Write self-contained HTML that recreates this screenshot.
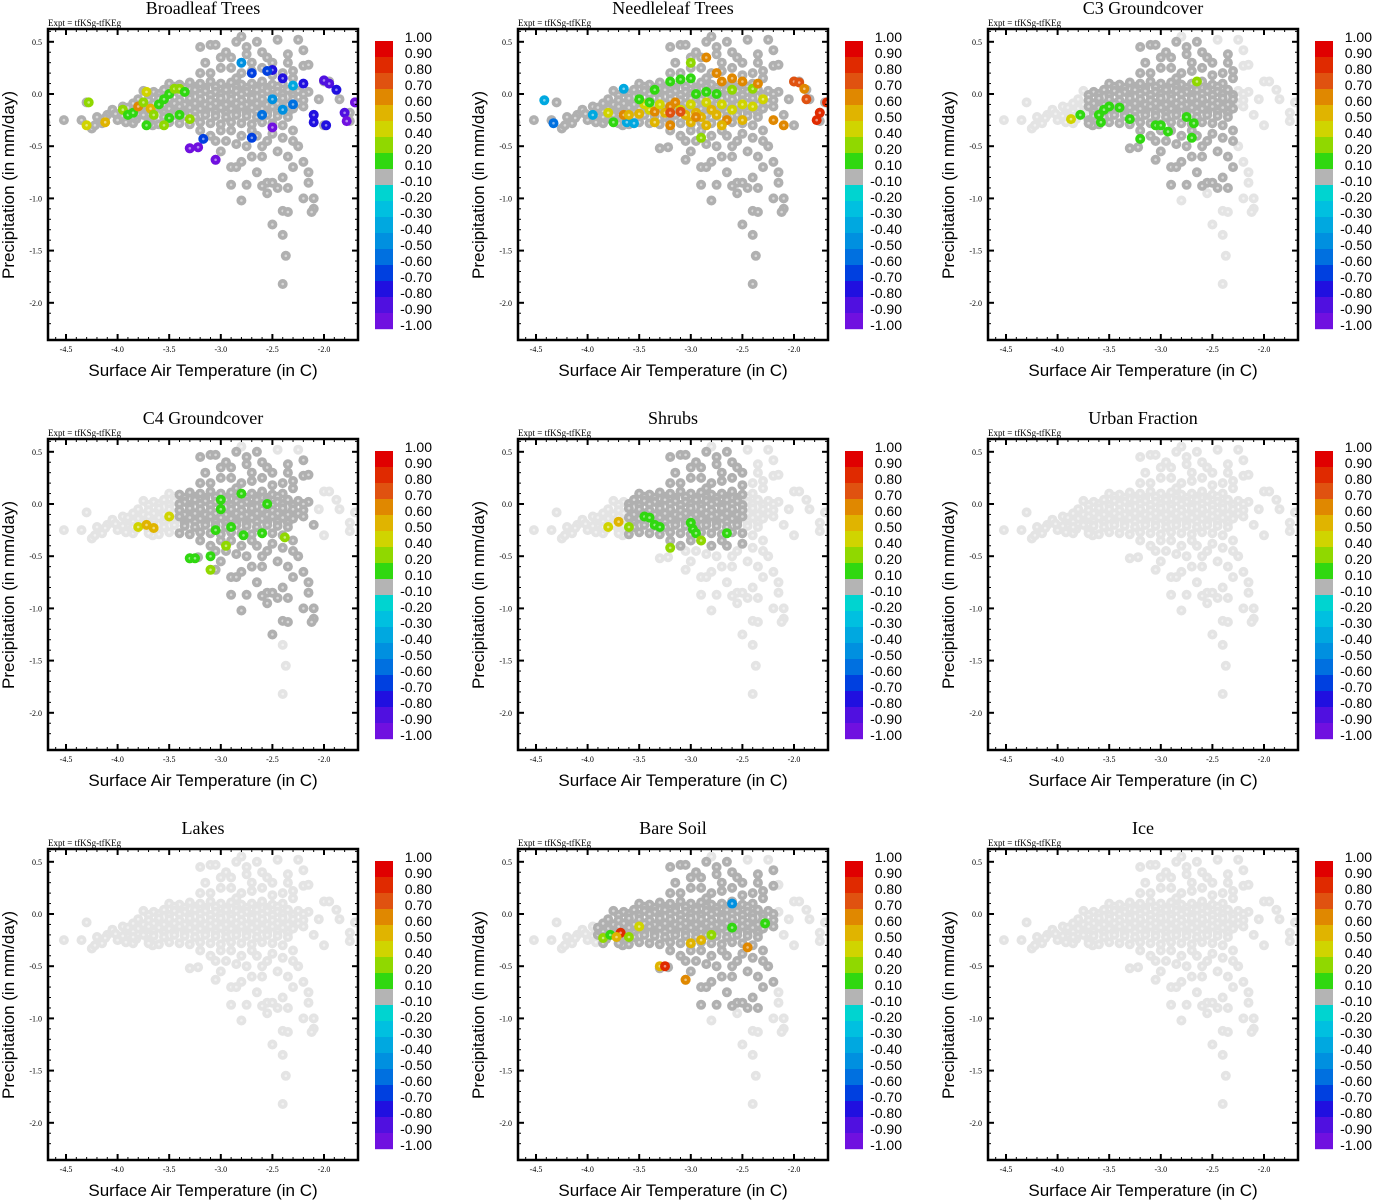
<!DOCTYPE html>
<html><head><meta charset="utf-8"><style>
html,body{margin:0;padding:0;background:#fff;}
svg{display:block;}
.ttl{font-family:"Liberation Serif",serif;font-size:18px;}
.expt{font-family:"Liberation Serif",serif;font-size:9px;}
.tick{font-family:"Liberation Serif",serif;font-size:8px;}
.axl{font-family:"Liberation Sans",sans-serif;font-size:17px;}
.cbl{font-family:"Liberation Sans",sans-serif;font-size:14px;}
</style></head><body>
<svg id="fig" width="1373" height="1200" xmlns="http://www.w3.org/2000/svg"></svg>
<script>
const panelTitles = ["Broadleaf Trees","Needleleaf Trees","C3 Groundcover","C4 Groundcover","Shrubs","Urban Fraction","Lakes","Bare Soil","Ice"];
const xTicks = [-4.5,-4.0,-3.5,-3.0,-2.5,-2.0];
const xTickLabels = ["-4.5","-4.0","-3.5","-3.0","-2.5","-2.0"];
const yTicks = [0.5,0.0,-0.5,-1.0,-1.5,-2.0];
const yTickLabels = ["0.5","0.0","-0.5","-1.0","-1.5","-2.0"];
const cbarLabels = ["1.00","0.90","0.80","0.70","0.60","0.50","0.40","0.20","0.10","-0.10","-0.20","-0.30","-0.40","-0.50","-0.60","-0.70","-0.80","-0.90","-1.00"];
const cbarBounds = [1.0,0.9,0.8,0.7,0.6,0.5,0.4,0.2,0.1,-0.1,-0.2,-0.3,-0.4,-0.5,-0.6,-0.7,-0.8,-0.9,-1.0];
const cbarColors = ["#e00000","#e02a00","#e05210","#e08800","#e0b400","#d0d400","#90d800","#30d810","#b4b4b4","#00d4d0","#00c0e0","#00a8e0","#0090e0","#0070e0","#0040e0","#2010e0","#5010e0","#7010e0"];
// shared background cloud [temp, precip]
const cloud = [
[-4.7,-0.27],[-4.52,-0.25],[-4.35,-0.25],[-4.3,-0.08],[-4.25,-0.33],[-4.2,-0.22],[-4.15,-0.28],[-4.1,-0.2],[-4.05,-0.15],[-4.0,-0.25],[-3.95,-0.12],[-3.9,-0.2],[-3.85,-0.28],[-3.8,-0.1],[-3.75,-0.18],[-3.7,-0.25],
[-4.22,-0.3],[-4.12,-0.23],[-4.02,-0.19],[-3.92,-0.27],[-3.88,-0.16],[-3.82,-0.24],[-3.72,-0.15],[-3.66,-0.3],
[-3.5,0.1],[-3.4,0.09],[-3.3,0.11],[-3.2,0.1],[-3.1,0.12],[-3.0,0.1],[-2.9,0.11],[-2.8,0.09],[-2.7,0.1],[-2.6,0.12],[-2.5,0.09],[-2.4,0.1],
[-3.45,0.07],[-3.35,0.06],[-3.25,0.07],[-3.15,0.06],[-3.05,0.07],[-2.95,0.06],[-2.85,0.07],[-2.75,0.06],[-2.65,0.07],[-2.55,0.06],[-2.45,0.07],
[-3.75,0.03],[-3.65,0.02],[-3.55,0.04],[-3.45,0.03],[-3.35,0.02],[-3.25,0.04],[-3.15,0.03],[-3.05,0.02],[-2.95,0.04],[-2.85,0.03],[-2.75,0.02],[-2.65,0.04],[-2.55,0.03],[-2.45,0.02],[-2.35,0.04],[-2.25,0.03],[-2.15,0.02],
[-3.7,-0.01],[-3.6,0.0],[-3.5,-0.01],[-3.4,0.0],[-3.3,-0.01],[-3.2,0.0],[-3.1,-0.01],[-3.0,0.0],[-2.9,-0.01],[-2.8,0.0],[-2.7,-0.01],[-2.6,0.0],[-2.5,-0.01],[-2.4,0.0],[-2.3,-0.01],[-2.2,0.0],
[-3.8,-0.05],[-3.7,-0.06],[-3.6,-0.04],[-3.5,-0.05],[-3.4,-0.06],[-3.3,-0.04],[-3.2,-0.05],[-3.1,-0.06],[-3.0,-0.04],[-2.9,-0.05],[-2.8,-0.06],[-2.7,-0.04],[-2.6,-0.05],[-2.5,-0.06],[-2.4,-0.04],[-2.3,-0.05],[-2.2,-0.06],
[-3.85,-0.09],[-3.75,-0.1],[-3.65,-0.09],[-3.55,-0.1],[-3.45,-0.09],[-3.35,-0.1],[-3.25,-0.09],[-3.15,-0.1],[-3.05,-0.09],[-2.95,-0.1],[-2.85,-0.09],[-2.75,-0.1],[-2.65,-0.09],[-2.55,-0.1],[-2.45,-0.09],[-2.35,-0.1],[-2.25,-0.09],
[-3.9,-0.13],[-3.8,-0.14],[-3.7,-0.12],[-3.6,-0.13],[-3.5,-0.14],[-3.4,-0.12],[-3.3,-0.13],[-3.2,-0.14],[-3.1,-0.12],[-3.0,-0.13],[-2.9,-0.14],[-2.8,-0.12],[-2.7,-0.13],[-2.6,-0.14],[-2.5,-0.12],[-2.4,-0.13],[-2.3,-0.14],[-2.2,-0.12],
[-3.85,-0.17],[-3.75,-0.18],[-3.65,-0.17],[-3.55,-0.18],[-3.45,-0.17],[-3.35,-0.18],[-3.25,-0.17],[-3.15,-0.18],[-3.05,-0.17],[-2.95,-0.18],[-2.85,-0.17],[-2.75,-0.18],[-2.65,-0.17],[-2.55,-0.18],[-2.45,-0.17],[-2.35,-0.18],
[-3.95,-0.21],[-3.85,-0.22],[-3.75,-0.2],[-3.65,-0.21],[-3.55,-0.22],[-3.45,-0.2],[-3.35,-0.21],[-3.25,-0.22],[-3.15,-0.2],[-3.05,-0.21],[-2.95,-0.22],[-2.85,-0.2],[-2.75,-0.21],[-2.65,-0.22],[-2.55,-0.2],[-2.45,-0.21],[-2.35,-0.22],
[-3.7,-0.28],[-3.6,-0.29],[-3.5,-0.27],[-3.4,-0.28],[-3.3,-0.29],[-3.2,-0.27],[-3.1,-0.28],[-3.0,-0.29],[-2.9,-0.27],[-2.8,-0.28],[-2.7,-0.29],[-2.6,-0.27],[-2.5,-0.28],[-2.4,-0.3],
[-3.2,0.45],[-3.1,0.47],[-3.05,0.47],[-2.95,0.4],[-2.85,0.5],[-2.8,0.55],[-2.75,0.45],[-2.65,0.5],[-2.55,0.35],[-2.45,0.52],[-2.35,0.38],[-2.25,0.52],[-2.2,0.42],[-2.2,0.27],[-2.15,0.28],[-3.15,0.3],[-3.0,0.35],[-2.9,0.25],[-2.7,0.3],[-2.6,0.25],[-2.4,0.2],[-2.3,0.22],[-3.1,0.2],[-2.8,0.2],[-2.5,0.18],
[-3.0,0.25],[-2.9,0.35],[-2.75,0.38],[-2.6,0.4],[-2.5,0.3],[-2.35,0.3],[-2.3,0.15],[-2.85,0.15],[-2.7,0.22],[-3.2,0.2],
[-2.0,0.12],[-1.95,0.12],[-1.88,0.04],[-1.85,-0.05],[-1.75,-0.18],[-1.75,-0.26],[-1.7,-0.08],[-2.05,-0.05],[-2.1,-0.2],[-2.0,-0.3],
[-3.3,-0.52],[-3.22,-0.51],[-3.05,-0.63],[-3.0,-0.55],[-2.95,-0.45],[-2.9,-0.7],[-2.85,-0.7],[-2.8,-0.65],[-2.7,-0.6],[-2.65,-0.75],[-2.6,-0.5],[-2.55,-0.85],[-2.5,-0.85],[-2.45,-0.9],[-2.4,-0.8],[-2.35,-0.9],[-2.3,-0.7],[-2.25,-0.5],[-2.2,-0.65],[-2.15,-0.75],[-2.15,-0.85],[-2.2,-1.0],[-2.1,-1.0],[-2.1,-1.1],[-2.12,-1.13],[-2.4,-1.12],[-2.35,-1.13],[-2.5,-1.25],[-2.4,-1.35],[-2.37,-1.55],[-2.4,-1.82],[-2.9,-0.87],[-2.75,-0.87],[-2.8,-1.02],[-2.6,-0.88],[-2.55,-0.95],[-2.35,-0.6],[-2.45,-0.55],[-2.55,-0.45],[-3.1,-0.4],[-2.8,-0.4],[-2.65,-0.4],[-2.4,-0.42],[-3.2,-0.35],[-2.9,-0.35],[-2.3,-0.35],[-2.75,-0.5],
[-3.0,-0.35],[-2.7,-0.35],[-2.5,-0.38],[-3.05,-0.45],[-2.85,-0.48],[-2.6,-0.6],[-2.3,-0.45]
];
// panel dark-grey region [xmin,xmax,ymin,ymax]; null = all light, "all" = all dark
const darkRegion = ["all","all",[-3.7,-2.3,-0.9,0.5],[-3.4,-2.1,-1.3,0.5],[-3.6,-2.5,-0.4,0.5],null,null,[-3.9,-2.2,-0.9,0.5],null];
// coloured points per panel [temp, precip, value]
const pts0 = [[-4.28,-0.08,0.3],[-4.3,-0.3,0.45],[-4.12,-0.27,0.55],[-3.95,-0.15,0.25],[-3.9,-0.2,0.15],[-3.85,-0.18,0.15],[-3.8,-0.12,0.65],[-3.75,-0.08,0.25],[-3.72,0.02,0.45],[-3.68,-0.14,0.55],[-3.65,-0.2,0.25],[-3.6,-0.1,0.15],[-3.55,-0.05,0.15],[-3.5,0.0,0.15],[-3.45,0.05,0.3],[-3.4,0.05,0.35],[-3.35,0.02,0.15],[-3.5,-0.23,0.15],[-3.4,-0.2,0.15],[-3.3,-0.24,0.3],[-3.72,-0.3,0.15],[-3.55,-0.3,0.3],
[-3.3,-0.52,-0.95],[-3.22,-0.51,-0.95],[-3.05,-0.63,-0.95],[-3.17,-0.43,-0.65],[-2.7,-0.42,-0.65],[-2.5,-0.32,-0.95],[-2.5,0.23,-0.75],[-2.4,0.15,-0.75],[-2.2,0.1,-0.75],[-2.0,0.13,-0.85],[-1.95,0.1,-0.85],[-1.88,0.04,-0.75],[-1.8,-0.18,-0.85],[-1.78,-0.26,-0.95],[-1.7,-0.08,-0.95],[-2.1,-0.2,-0.75],[-2.1,-0.27,-0.75],[-1.98,-0.3,-0.75],[-2.6,-0.2,-0.55],[-2.4,-0.15,-0.45],[-2.8,0.3,-0.45],[-2.55,0.22,-0.65],[-2.7,0.2,-0.65],[-2.3,0.08,-0.35],[-2.5,-0.05,-0.45],[-2.3,-0.1,-0.55]];
const pts1 = [[-4.42,-0.06,-0.35],[-4.33,-0.28,-0.55],[-3.95,-0.2,-0.35],[-3.65,0.05,-0.35],[-3.62,-0.27,-0.35],[-3.55,-0.28,-0.35],
[-3.8,-0.18,0.45],[-3.65,-0.2,0.65],[-3.6,-0.2,0.55],[-3.5,-0.19,0.55],[-3.45,-0.1,0.45],[-3.4,-0.15,0.45],[-3.35,-0.17,0.65],[-3.3,-0.1,0.45],[-3.25,-0.18,0.55],[-3.2,-0.12,0.65],[-3.15,-0.08,0.65],[-3.1,-0.15,0.45],[-3.05,-0.2,0.55],[-3.0,-0.1,0.45],[-2.95,-0.18,0.55],[-2.9,-0.22,0.55],[-2.85,-0.08,0.45],[-2.8,-0.15,0.55],[-2.75,-0.2,0.55],[-2.7,-0.1,0.45],[-2.65,-0.25,0.65],[-2.6,-0.15,0.45],[-2.5,-0.1,0.45],[-2.4,-0.12,0.45],[-2.3,-0.05,0.45],[-3.35,-0.27,0.55],[-3.2,-0.3,0.65],[-3.0,-0.27,0.55],[-2.85,-0.3,0.55],[-2.7,-0.3,0.55],[-2.5,-0.25,0.55],
[-3.75,-0.27,0.15],[-3.5,-0.05,0.15],[-3.35,0.04,0.15],[-3.2,0.12,0.15],[-3.1,0.14,0.15],[-3.0,0.15,0.15],[-2.95,0.0,0.15],[-2.85,0.02,0.15],[-2.75,0.0,0.15],[-3.0,0.3,0.3],[-2.9,-0.42,0.3],[-2.6,0.04,0.3],[-2.4,0.05,0.3],[-3.4,-0.08,0.15],
[-2.85,0.35,0.65],[-2.75,0.2,0.65],[-2.7,0.12,0.65],[-2.6,0.15,0.65],[-2.5,0.12,0.65],[-2.35,0.1,0.65],[-2.2,-0.25,0.65],[-2.1,-0.3,0.65],[-2.0,0.12,0.75],[-1.95,0.11,0.75],[-1.9,0.05,0.65],[-1.88,-0.05,0.75],[-1.75,-0.18,0.85],[-1.78,-0.25,0.85],[-1.68,-0.08,0.85],[-3.2,-0.18,0.75],[-3.1,-0.17,0.75],[-2.95,-0.22,0.65]];
const pts2 = [[-3.87,-0.24,0.45],[-3.78,-0.2,0.15],[-3.6,-0.2,0.15],[-3.58,-0.27,0.15],[-3.55,-0.15,0.15],[-3.5,-0.12,0.15],[-3.4,-0.13,0.15],[-3.3,-0.24,0.15],[-3.05,-0.3,0.15],[-3.0,-0.3,0.15],[-2.93,-0.36,0.15],[-3.2,-0.43,0.15],[-2.75,-0.22,0.15],[-2.68,-0.28,0.15],[-2.7,-0.42,0.15],[-2.65,0.12,0.3]];
const pts3 = [[-3.8,-0.22,0.45],[-3.72,-0.2,0.55],[-3.65,-0.23,0.55],[-3.5,-0.12,0.45],[-3.3,-0.52,0.15],[-3.25,-0.52,0.15],[-3.1,-0.63,0.3],[-3.0,-0.05,0.15],[-3.0,0.04,0.15],[-2.8,0.1,0.15],[-3.05,-0.25,0.15],[-2.9,-0.22,0.15],[-2.95,-0.4,0.3],[-2.78,-0.3,0.15],[-2.55,0.0,0.15],[-2.6,-0.28,0.15],[-2.38,-0.32,0.3],[-3.1,-0.5,0.15]];
const pts4 = [[-3.8,-0.22,0.45],[-3.7,-0.17,0.55],[-3.6,-0.22,0.3],[-3.45,-0.12,0.15],[-3.4,-0.13,0.15],[-3.35,-0.2,0.15],[-3.3,-0.22,0.15],[-3.2,-0.42,0.3],[-3.0,-0.18,0.15],[-2.98,-0.24,0.15],[-2.95,-0.28,0.15],[-2.9,-0.35,0.3],[-2.65,-0.28,0.15]];
const pts7 = [[-3.85,-0.23,0.3],[-3.78,-0.2,0.15],[-3.68,-0.18,0.85],[-3.6,-0.22,0.3],[-3.5,-0.12,0.45],[-3.3,-0.5,0.55],[-3.25,-0.5,0.85],[-3.05,-0.63,0.65],[-3.0,-0.28,0.55],[-2.9,-0.25,0.55],[-2.8,-0.2,0.3],[-2.6,-0.13,0.15],[-2.6,0.1,-0.45],[-2.45,-0.32,0.65],[-2.28,-0.09,0.15],[-3.72,-0.22,0.55]];
const panelPts = [pts0,pts1,pts2,pts3,pts4,[],[],pts7,[]];

const NS="http://www.w3.org/2000/svg";
const svg=document.getElementById('fig');
function mk(tag,attrs,parent){const e=document.createElementNS(NS,tag);for(const k in attrs)e.setAttribute(k,attrs[k]);parent.appendChild(e);return e;}
const X0=48,X1=358,Y0=29,Y1=340;
function sx(v){return 66+(v+4.5)*103.2;}
function sy(v){return 94-v*104.4;}
function colorOf(v){for(let i=0;i<cbarColors.length;i++){if(v<=cbarBounds[i]&&v>=cbarBounds[i+1])return cbarColors[i];}return cbarColors[8];}
function dot(g,x,y,fill,name){
  const c=mk('circle',{cx:sx(x).toFixed(1),cy:sy(y).toFixed(1),r:5,fill:fill},g);
  
  
  const d=mk('circle',{cx:sx(x).toFixed(1),cy:sy(y).toFixed(1),r:1.3,fill:'#ffffff','fill-opacity':0.5},g);
  
  
}
for(let p=0;p<9;p++){
  const ox=(p%3)*470, oy=Math.floor(p/3)*410;
  const g=mk('g',{transform:`translate(${ox},${oy})`},svg);
  
  
  const t=mk('text',{x:203,y:14,'text-anchor':'middle',class:'ttl'},g);t.textContent=panelTitles[p];
  
  
  const ex=mk('text',{x:48,y:26,class:'expt'},g);ex.textContent='Expt = tfKSg-tfKEg';
  
  
  const clip=mk('clipPath',{id:'cp'+p},g);mk('rect',{x:X0,y:Y0,width:X1-X0,height:Y1-Y0},clip);
  const pg=mk('g',{'clip-path':`url(#cp${p})`},g);
  
  
  const dr=darkRegion[p];
  const isDark=(pt)=>dr==="all"||(dr&&pt[0]>=dr[0]&&pt[0]<=dr[1]&&pt[1]>=dr[2]&&pt[1]<=dr[3]);
  cloud.forEach(pt=>{if(!isDark(pt))dot(pg,pt[0],pt[1],'#e4e4e4','background-point');});
  cloud.forEach(pt=>{if(isDark(pt))dot(pg,pt[0],pt[1],'#b0b0b0','domain-point');});
  panelPts[p].forEach(pt=>dot(pg,pt[0],pt[1],colorOf(pt[2]),'colored-point'));
  const fr=mk('rect',{x:X0,y:Y0,width:X1-X0,height:Y1-Y0,fill:'none',stroke:'#000','stroke-width':2.5},g);
  
  
  for(let v=-4.6;v<=-1.7;v+=0.1){const x=sx(v);mk('line',{x1:x,x2:x,y1:Y1,y2:Y1-3,stroke:'#000'},g);mk('line',{x1:x,x2:x,y1:Y0,y2:Y0+3,stroke:'#000'},g);}
  for(let v=0.6;v>=-2.3;v-=0.1){const y=sy(v);mk('line',{x1:X0,x2:X0+3,y1:y,y2:y,stroke:'#000'},g);mk('line',{x1:X1,x2:X1-3,y1:y,y2:y,stroke:'#000'},g);}
  xTicks.forEach((v,i)=>{const x=sx(v);mk('line',{x1:x,x2:x,y1:Y1,y2:Y1-6,stroke:'#000','stroke-width':2},g);mk('line',{x1:x,x2:x,y1:Y0,y2:Y0+6,stroke:'#000','stroke-width':2},g);
    const l=mk('text',{x:x,y:352,'text-anchor':'middle',class:'tick'},g);l.textContent=xTickLabels[i];
    
    });
  yTicks.forEach((v,i)=>{const y=sy(v);mk('line',{x1:X0,x2:X0+6,y1:y,y2:y,stroke:'#000','stroke-width':2},g);mk('line',{x1:X1,x2:X1-6,y1:y,y2:y,stroke:'#000','stroke-width':2},g);
    const l=mk('text',{x:42,y:y+3,'text-anchor':'end',class:'tick'},g);l.textContent=yTickLabels[i];
    
    });
  const xl=mk('text',{x:203,y:376,'text-anchor':'middle',class:'axl'},g);xl.textContent='Surface Air Temperature (in C)';
  
  
  const yl=mk('text',{x:0,y:0,'text-anchor':'middle',class:'axl',transform:'translate(14,185) rotate(-90)'},g);yl.textContent='Precipitation (in mm/day)';
  
  
  const cb=mk('g',{},g);
  
  
  cbarColors.forEach((c,i)=>{const r=mk('rect',{x:375,y:41+16*i,width:18,height:16.2,fill:c},cb);
    
    });
  cbarLabels.forEach((s,i)=>{const l=mk('text',{x:432,y:42+16*i,'text-anchor':'end',class:'cbl'},cb);l.textContent=s;
    
    });
}
</script>
</body></html>
